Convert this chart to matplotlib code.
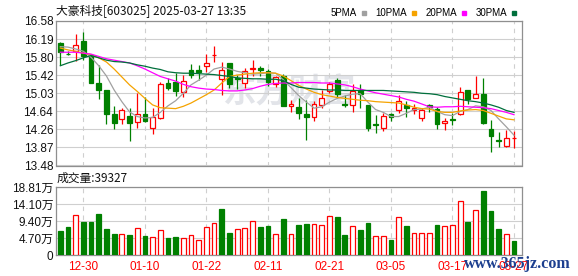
import matplotlib
matplotlib.use('Agg')
import matplotlib.pyplot as plt
from matplotlib.lines import Line2D

plt.rcParams['font.family'] = ['Liberation Sans', 'Noto Sans CJK SC']

# trading days shown on the chart (oldest first)
dates = ['12-25', '12-26', '12-27', '12-30', '12-31', '01-02', '01-03', '01-06',
         '01-07', '01-08', '01-09', '01-10', '01-13', '01-14', '01-15', '01-16',
         '01-17', '01-20', '01-21', '01-22', '01-23', '01-24', '01-27', '02-05',
         '02-06', '02-07', '02-10', '02-11', '02-12', '02-13', '02-14', '02-17',
         '02-18', '02-19', '02-20', '02-21', '02-24', '02-25', '02-26', '02-27',
         '02-28', '03-03', '03-04', '03-05', '03-06', '03-07', '03-10', '03-11',
         '03-12', '03-13', '03-14', '03-17', '03-18', '03-19', '03-20', '03-21',
         '03-24', '03-25', '03-26', '03-27']

opens = [16.11, 15.88, 15.93, 16.16, 15.82, 15.25, 15.11, 14.58, 14.47, 14.54,
         14.42, 14.59, 14.28, 14.49, 15.25, 15.28, 15.05, 15.52, 15.52, 15.61,
         15.84, 15.34, 15.68, 15.36, 15.25, 15.55, 15.57, 15.50, 15.22, 15.39,
         14.75, 14.73, 14.59, 14.52, 14.78, 15.07, 15.32, 14.81, 14.78, 15.11,
         14.77, 14.36, 14.29, 14.59, 14.66, 14.77, 14.66, 14.49, 14.78, 14.70,
         14.40, 14.48, 14.58, 15.09, 14.93, 15.02, 14.26, 14.02, 13.89, 14.06]
highs = [16.12, 15.94, 16.30, 16.34, 15.85, 15.64, 15.11, 14.76, 14.72, 14.72,
         15.04, 14.95, 14.71, 15.27, 15.36, 15.47, 15.42, 15.66, 15.64, 15.87,
         16.05, 15.71, 15.68, 15.43, 15.57, 15.75, 15.61, 15.55, 15.39, 15.44,
         14.88, 14.93, 14.88, 14.86, 15.11, 15.27, 15.36, 15.00, 15.22, 15.23,
         14.77, 14.56, 14.61, 14.61, 14.99, 14.86, 14.79, 14.72, 14.81, 14.74,
         14.49, 14.61, 15.17, 15.09, 15.39, 15.36, 14.45, 14.19, 14.24, 14.21]
lows = [15.63, 15.84, 15.73, 15.75, 15.24, 14.90, 14.37, 14.27, 14.38, 14.00,
        14.29, 14.42, 14.15, 14.48, 15.11, 14.98, 14.95, 15.36, 15.32, 15.49,
        15.70, 14.99, 15.15, 15.12, 15.15, 15.39, 15.40, 15.18, 15.17, 14.76,
        14.63, 14.47, 14.03, 14.44, 14.72, 15.04, 14.92, 14.74, 14.63, 14.71,
        14.22, 14.18, 14.21, 14.44, 14.61, 14.52, 14.59, 14.44, 14.63, 14.26,
        14.24, 14.35, 14.57, 14.79, 14.92, 14.37, 13.78, 13.88, 13.88, 13.85]
closes = [15.91, 15.87, 16.06, 15.82, 15.25, 15.11, 14.58, 14.40, 14.66, 14.40,
          14.59, 14.44, 14.51, 15.23, 15.15, 15.08, 15.29, 15.43, 15.49, 15.68,
          15.86, 15.52, 15.22, 15.34, 15.50, 15.57, 15.52, 15.27, 15.38, 14.76,
          14.79, 14.60, 14.51, 14.81, 14.92, 15.23, 15.02, 14.78, 15.07, 15.02,
          14.29, 14.34, 14.54, 14.52, 14.86, 14.71, 14.71, 14.66, 14.74, 14.36,
          14.43, 14.46, 15.05, 14.90, 15.02, 14.40, 14.12, 14.01, 14.08, 14.07]

# moving averages
ma5 = [16.03, 16.02, 15.98, 15.93, 15.80, 15.62, 15.40, 15.10, 14.85, 14.63,
       14.53, 14.50, 14.51, 14.62, 14.76, 14.87, 15.03, 15.21, 15.31, 15.42,
       15.55, 15.59, 15.55, 15.50, 15.47, 15.44, 15.45, 15.47, 15.46, 15.32,
       15.15, 14.98, 14.84, 14.71, 14.74, 14.84, 14.92, 14.97, 15.01, 15.02,
       14.84, 14.68, 14.62, 14.53, 14.53, 14.60, 14.68, 14.69, 14.73, 14.64,
       14.57, 14.55, 14.64, 14.68, 14.76, 14.74, 14.66, 14.48, 14.31, 14.13]
ma10 = [16.00, 15.96, 15.93, 15.89, 15.86, 15.79, 15.70, 15.55, 15.38, 15.21,
        15.07, 14.92, 14.78, 14.72, 14.71, 14.70, 14.75, 14.82, 14.91, 15.00,
        15.10, 15.25, 15.39, 15.42, 15.44, 15.46, 15.47, 15.47, 15.46, 15.40,
        15.30, 15.20, 15.12, 15.05, 15.00, 14.97, 14.94, 14.92, 14.90, 14.88,
        14.87, 14.85, 14.84, 14.83, 14.82, 14.78, 14.73, 14.70, 14.69, 14.64,
        14.62, 14.62, 14.65, 14.67, 14.68, 14.66, 14.60, 14.54, 14.48, 14.46]
ma20 = [15.91, 15.91, 15.91, 15.89, 15.87, 15.82, 15.77, 15.74, 15.71, 15.68,
        15.62, 15.55, 15.47, 15.39, 15.34, 15.29, 15.22, 15.17, 15.14, 15.12,
        15.11, 15.09, 15.08, 15.08, 15.10, 15.13, 15.18, 15.22, 15.24, 15.25,
        15.25, 15.26, 15.26, 15.26, 15.25, 15.25, 15.23, 15.21, 15.17, 15.12,
        15.08, 15.04, 15.01, 14.98, 14.95, 14.90, 14.86, 14.80, 14.74, 14.73,
        14.74, 14.74, 14.75, 14.74, 14.73, 14.72, 14.70, 14.66, 14.62, 14.57]
ma30 = [15.62, 15.68, 15.73, 15.79, 15.84, 15.79, 15.74, 15.71, 15.70, 15.68,
        15.64, 15.61, 15.57, 15.54, 15.49, 15.47, 15.46, 15.46, 15.45, 15.44,
        15.43, 15.41, 15.39, 15.36, 15.35, 15.34, 15.34, 15.33, 15.33, 15.30,
        15.22, 15.16, 15.14, 15.12, 15.11, 15.10, 15.10, 15.09, 15.09, 15.09,
        15.09, 15.09, 15.09, 15.08, 15.07, 15.06, 15.05, 15.03, 15.02, 15.00,
        14.96, 14.93, 14.90, 14.87, 14.85, 14.82, 14.78, 14.73, 14.66, 14.62]

# volume in units of 10k (万)
volume = [6.67, 7.78, 11.03, 9.18, 9.18, 11.40, 7.23, 5.84, 5.84, 5.56,
          7.41, 5.28, 4.91, 6.86, 4.73, 5.00, 4.63, 5.47, 4.17, 7.69,
          8.90, 12.79, 6.12, 7.14, 7.41, 9.36, 7.78, 7.97, 5.75, 10.00,
          5.75, 8.34, 8.62, 8.53, 8.25, 10.75, 10.57, 5.56, 7.97, 6.95,
          8.90, 5.19, 5.19, 4.17, 10.47, 8.06, 6.02, 6.02, 6.02, 8.34,
          7.97, 8.25, 14.92, 9.18, 12.42, 17.79, 12.23, 7.23, 5.75, 3.9327]
vol_up = [0, 0, 1, 0, 0, 0, 0, 0, 1, 0, 1, 0, 1, 1, 0, 0, 1, 1, 1, 1,
          1, 0, 0, 1, 1, 1, 0, 0, 1, 0, 1, 0, 0, 1, 1, 1, 0, 0, 1, 0,
          0, 1, 1, 0, 1, 0, 1, 1, 1, 0, 1, 1, 1, 0, 1, 0, 0, 0, 1, 0]

price_ticks = [13.48, 13.87, 14.26, 14.64, 15.03, 15.42, 15.80, 16.19, 16.58]
vol_ticks = [0, 4.70, 9.40, 14.10, 18.81]
vol_tick_labels = ['0', '4.70万', '9.40万', '14.10万', '18.81万']

red = '#ff0000'
green = '#008000'
grid_c = '#cfcfcf'
frame_c = '#8f8f8f'
ma_colors = ['#a0a0a0', '#f5a300', '#ff00ff', '#006f3c']

W, H = 578, 276
fig = plt.figure(figsize=(W / 100, H / 100), dpi=100)
ax = fig.add_axes([56 / W, 1 - 165.5 / H, 466 / W, 144.5 / H])
axv = fig.add_axes([56 / W, 1 - 255 / H, 466 / W, 68 / H])

n = len(closes)
xs = list(range(n))
label_idx = list(range(3, n, 8))

for a in (ax, axv):
    a.set_xlim(-0.56, n + 0.04)
    a.set_xticks(label_idx)
    a.grid(axis='x', color=grid_c, lw=0.8, ls=(0, (4, 4)))
    a.grid(axis='y', color=grid_c, lw=0.8)
    a.set_axisbelow(True)
    a.tick_params(length=0, labelsize=8.5, colors='#111111', pad=2)
    for s in a.spines.values():
        s.set_color(frame_c)
        s.set_linewidth(0.9)

# faint logo behind the candles
ax.text(0.5, 0.5, '东方财富', transform=ax.transAxes, ha='center', va='center',
        fontsize=24, fontweight='bold', color='#e2e4e9', zorder=0,
        family=['Noto Sans CJK SC'])

# candles
up = [c >= o for o, c in zip(opens, closes)]
ax.vlines(xs, lows, highs, colors=[red if u else green for u in up], lw=0.9, zorder=2)
for i in xs:
    lo = min(opens[i], closes[i])
    h = max(abs(closes[i] - opens[i]), 0.004)
    if up[i]:
        ax.bar(i, h, bottom=lo, width=0.62, facecolor='white', edgecolor=red, lw=0.9, zorder=3)
    else:
        ax.bar(i, h, bottom=lo, width=0.62, facecolor=green, edgecolor=green, lw=0.9, zorder=3)

for ma, c in zip([ma5, ma10, ma20, ma30], ma_colors):
    ax.plot(xs, ma, color=c, lw=0.9, zorder=4)

ax.set_ylim(price_ticks[0], price_ticks[-1])
ax.set_yticks(price_ticks)
ax.set_yticklabels(['%.2f' % t for t in price_ticks])
ax.set_xticklabels([])

handles = [Line2D([], [], marker='s', ls='', color=c, markersize=3.5) for c in ma_colors]
ax.legend(handles, ['5PMA', '10PMA', '20PMA', '30PMA'], ncol=4, markerfirst=False,
          frameon=False, loc='lower right', bbox_to_anchor=(0.995, 1.0),
          fontsize=7, handlelength=0.6, handletextpad=0.4, columnspacing=0.9,
          borderpad=0.1, borderaxespad=0.2)

# volume bars
for i in xs:
    if vol_up[i]:
        axv.bar(i, volume[i], width=0.62, facecolor='white', edgecolor=red, lw=0.9, zorder=3)
    else:
        axv.bar(i, volume[i], width=0.62, facecolor=green, edgecolor=green, lw=0.9, zorder=3)
axv.set_ylim(0, vol_ticks[-1])
axv.set_yticks(vol_ticks)
axv.set_yticklabels(vol_tick_labels)
axv.set_xticklabels([dates[i] for i in label_idx])
for t in axv.get_xticklabels():
    t.set_color(red)
axv.tick_params(axis='x', pad=4)

fig.text(56 / W, 1 - 11 / H, '大豪科技[603025] 2025-03-27 13:35', va='center',
         fontsize=8.5, family=['Noto Sans CJK SC'], color='#111111')
fig.text(57 / W, 1 - 178 / H, '成交量:%d' % round(volume[-1] * 10000), va='center',
         fontsize=8.5, family=['Noto Sans CJK SC'], color='#111111')
fig.text(1 - 7 / W, 1 - 264 / H, 'www.365jz.com', ha='right', va='center',
         fontsize=11.5, fontweight='bold', family=['Liberation Serif'], color='#1d3f8f')

fig.savefig('out.png', dpi=100)
